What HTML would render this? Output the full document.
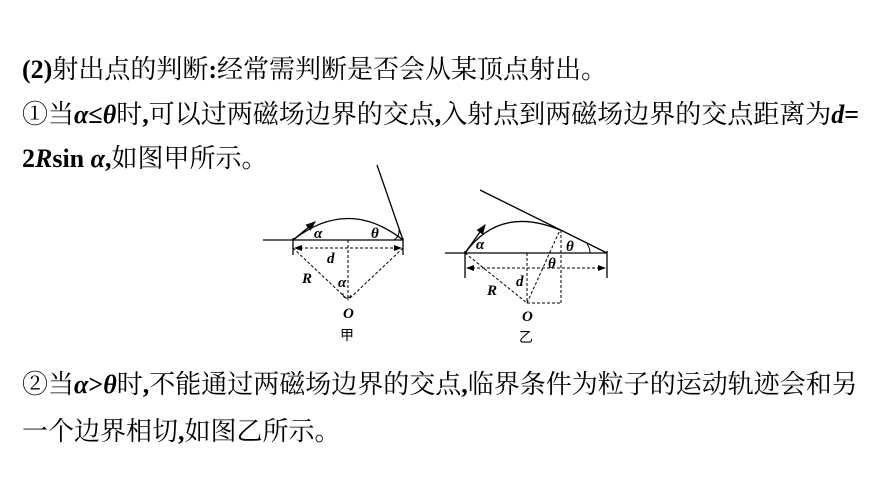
<!DOCTYPE html>
<html><head><meta charset="utf-8"><style>
body{margin:0;width:870px;height:489px;background:#fff;position:relative;overflow:hidden;font-family:"Liberation Serif","Noto Serif CJK SC",serif;color:#000}
.l{position:absolute;left:22px;font-size:26px;white-space:nowrap;line-height:30px}
b{font-family:"Liberation Serif",serif}
i{font-family:"Liberation Serif",serif;font-weight:bold}
</style></head><body>
<div class="l" style="top:55px"><b>(2)</b>射出点的判断<b>:</b>经常需判断是否会从某顶点射出。</div>
<div class="l" style="top:100px">①当<i>α</i><b>≤</b><i>θ</i>时<b>,</b>可以过两磁场边界的交点<b>,</b>入射点到两磁场边界的交点距离为<i>d</i><b>=</b></div>
<div class="l" style="top:144px"><b>2</b><i>R</i><b>sin </b><i>α</i><b>,</b>如图甲所示。</div>
<div class="l" style="top:370px">②当<i>α</i><b>&gt;</b><i>θ</i>时<b>,</b>不能通过两磁场边界的交点<b>,</b>临界条件为粒子的运动轨迹会和另</div>
<div class="l" style="top:417px">一个边界相切<b>,</b>如图乙所示。</div>
<svg width="870" height="489" style="position:absolute;left:0;top:0" font-family="Liberation Serif,serif" font-style="italic" font-weight="bold" font-size="15">
<defs><marker id="a" markerWidth="8" markerHeight="6" refX="7" refY="3" orient="auto"><path d="M0,0L8,3L0,6z"/></marker>
<marker id="b" markerWidth="8" markerHeight="6" refX="1" refY="3" orient="auto"><path d="M8,0L0,3L8,6z"/></marker></defs>
<g stroke="#000" fill="none" stroke-width="1.3">
<line x1="263" y1="240" x2="403" y2="240"/>
<line x1="403" y1="240" x2="377" y2="165"/>
<path d="M293,240 Q348,197 403,240"/>
<line x1="293" y1="240" x2="315" y2="222" marker-end="url(#a)"/>
<line x1="293" y1="238" x2="293" y2="255"/><line x1="403" y1="238" x2="403" y2="255"/>
<g stroke-dasharray="3,2" stroke-width="1">
<line x1="295" y1="248" x2="401" y2="248" marker-start="url(#b)" marker-end="url(#a)"/>
<line x1="348" y1="240" x2="348" y2="298"/>
<line x1="293" y1="248" x2="348" y2="300"/><line x1="403" y1="248" x2="348" y2="300"/>
</g>
<path d="M343,293 a4,4 0 0 0 8,2" stroke-width="1"/>
<line x1="445" y1="253" x2="607" y2="253"/>
<line x1="480" y1="190" x2="607" y2="253"/>
<path d="M465,253 Q500,205 560,230"/>
<line x1="465" y1="253" x2="485" y2="225" marker-end="url(#a)"/>
<line x1="465" y1="251" x2="465" y2="278"/><line x1="607" y1="251" x2="607" y2="278"/>
<g stroke-dasharray="3,2" stroke-width="1">
<line x1="467" y1="268" x2="605" y2="268" marker-start="url(#b)" marker-end="url(#a)"/>
<line x1="527" y1="253" x2="527" y2="303"/>
<line x1="465" y1="253" x2="527" y2="303"/>
<line x1="527" y1="303" x2="560" y2="230"/>
<line x1="561" y1="230" x2="561" y2="303"/>
<line x1="527" y1="303" x2="561" y2="303"/>
</g>
<path d="M590,253 a14,14 0 0 0 -3,-9" stroke-width="1"/>
<path d="M394,240 a10,10 0 0 0 5,-10" stroke-width="1"/>
</g>
<text x="314" y="238">α</text><text x="371" y="238">θ</text><text x="327" y="263">d</text>
<text x="302" y="283">R</text><text x="338" y="287">α</text><text x="343" y="318">O</text>
<text x="476" y="249">α</text><text x="566" y="251">θ</text><text x="548" y="268">θ</text>
<text x="516" y="286">d</text><text x="487" y="295">R</text><text x="522" y="321">O</text>
<text x="340" y="340" font-style="normal" font-weight="normal" font-family="Noto Sans CJK SC,sans-serif" font-size="14">甲</text>
<text x="519" y="342" font-style="normal" font-weight="normal" font-family="Noto Sans CJK SC,sans-serif" font-size="14">乙</text>
</svg>
</body></html>
